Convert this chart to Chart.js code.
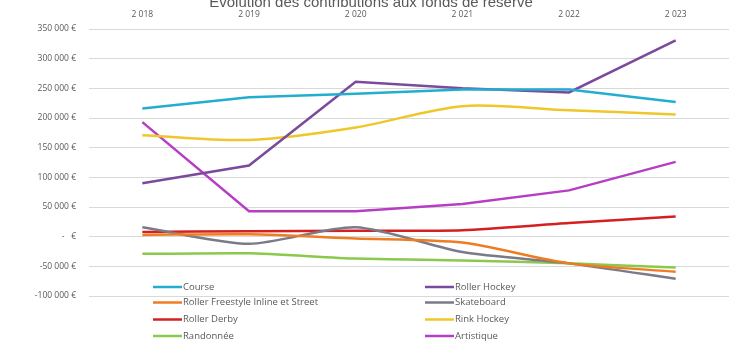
<!DOCTYPE html>
<html>
<head>
<meta charset="utf-8">
<script src="https://cdn.jsdelivr.net/npm/chart.js@4"></script>
<style>
  html, body { margin: 0; padding: 0; background: #fff; }
  #wrap { width: 738px; height: 349px; position: relative; }
</style>
</head>
<body>
<div id="wrap"><canvas id="reserve-chart" width="738" height="349"></canvas></div>
<script>
const years = ['2 018', '2 019', '2 020', '2 021', '2 022', '2 023'];

const course = [216000, 235000, 241000, 248000, 248000, 227000];
const rollerHockey = [90000, 120000, 261000, 250000, 243000, 331000];
const rollerFreestyle = [3000, 4000, -3000, -10000, -45000, -59000];
const skateboard = [16000, -12000, 16000, -26000, -45000, -71000];
const rollerDerby = [8000, 9000, 10000, 11000, 23000, 34000];
const rinkHockey = [171000, 163000, 184000, 220000, 213000, 206000];
const randonnee = [-29000, -28000, -37000, -40000, -45000, -52000];
const artistique = [193000, 43000, 43000, 55000, 78000, 126000];

const TITLE = 'Évolution des contributions aux fonds de réserve';
const textColor = '#595959';
const gridColor = '#d9d9d9';

function euro(v) {
    if (v === 0) return '-   €';
    const s = Math.abs(v).toString().replace(/\B(?=(\d{3})+(?!\d))/g, ' ');
    return (v < 0 ? '-' : '') + s + ' €';
}

function series(label, data, color, tension) {
    return {
        label: label,
        data: data,
        borderColor: color,
        backgroundColor: color,
        borderWidth: 2.5,
        pointRadius: 0,
        tension: tension,
        fill: false
    };
}

// Excel-like title, partly cut off at the top edge
const titlePlugin = {
    id: 'cutTitle',
    afterDraw(chart) {
        const ctx = chart.ctx;
        ctx.save();
        ctx.font = '15px "Liberation Sans", Arial, sans-serif';
        ctx.fillStyle = textColor;
        ctx.textAlign = 'center';
        ctx.textBaseline = 'alphabetic';
        ctx.fillText(TITLE, 371, 7);
        ctx.restore();
    }
};

// Two-column legend drawn over the bottom of the plot area
const legendPlugin = {
    id: 'twoColLegend',
    afterDraw(chart) {
        const ctx = chart.ctx;
        const cols = [153, 425];
        const rows = [287, 302.5, 319.5, 336];
        ctx.save();
        ctx.font = '9.5px "Open Sans", "Noto Sans", sans-serif';
        ctx.textBaseline = 'middle';
        ctx.textAlign = 'left';
        chart.data.datasets.forEach((ds, i) => {
            const x = cols[i % 2];
            const y = rows[Math.floor(i / 2)];
            ctx.strokeStyle = ds.borderColor;
            ctx.lineWidth = 2.5;
            ctx.beginPath();
            ctx.moveTo(x, y);
            ctx.lineTo(x + 29, y);
            ctx.stroke();
            ctx.fillStyle = textColor;
            ctx.fillText(ds.label, x + 30, y);
        });
        ctx.restore();
    }
};

const ctx = document.getElementById('reserve-chart').getContext('2d');
const chart = new Chart(ctx, {
    type: 'line',
    data: {
        labels: years,
        datasets: [
            series('Course', course, '#23aecf', 0),
            series('Roller Hockey', rollerHockey, '#7b4a9c', 0),
            series('Roller Freestyle Inline et Street', rollerFreestyle, '#ee7d22', 0.25),
            series('Skateboard', skateboard, '#7a7a88', 0.25),
            series('Roller Derby', rollerDerby, '#d42020', 0.25),
            series('Rink Hockey', rinkHockey, '#eec72a', 0.3),
            series('Randonnée', randonnee, '#8cc84b', 0.2),
            series('Artistique', artistique, '#b63ec4', 0)
        ]
    },
    options: {
        responsive: false,
        animation: false,
        layout: { padding: { top: 0, left: 0, right: 9, bottom: 53 } },
        scales: {
            x: {
                position: 'top',
                offset: true,
                grid: { display: false, drawTicks: false },
                border: { display: false },
                ticks: { color: textColor, padding: 9, font: { size: 8.5, family: '"Open Sans", "Noto Sans", sans-serif' } },
                afterFit(scale) { scale.height = 29; }
            },
            y: {
                min: -100000,
                max: 350000,
                grid: { color: gridColor, drawTicks: false },
                border: { display: false },
                ticks: {
                    stepSize: 50000,
                    color: textColor,
                    padding: 13,
                    font: { size: 8.5, family: '"Open Sans", "Noto Sans", sans-serif' },
                    callback: v => euro(v)
                },
                afterFit(scale) { scale.width = 89; }
            }
        },
        plugins: {
            legend: { display: false },
            title: { display: false },
            tooltip: { enabled: false }
        }
    },
    plugins: [titlePlugin, legendPlugin]
});
</script>
</body>
</html>
